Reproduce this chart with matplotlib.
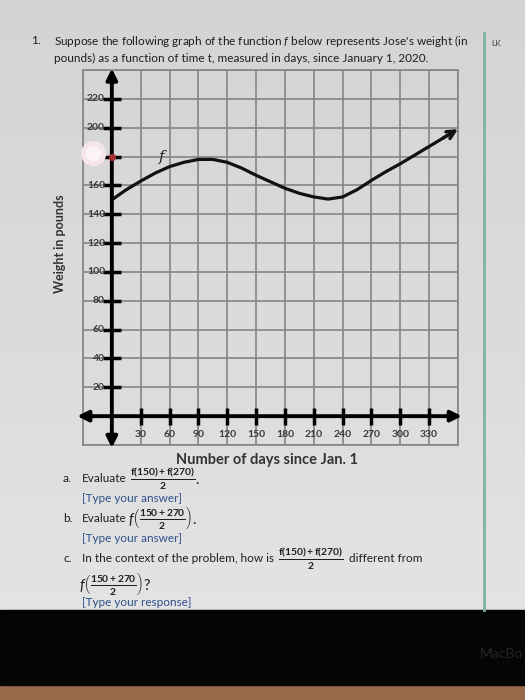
import numpy as np
import matplotlib
matplotlib.use("Agg")
import matplotlib.pyplot as plt
from matplotlib.patches import Rectangle

plt.rcParams['font.family'] = ['Lato', 'DejaVu Sans']
plt.rcParams['mathtext.fontset'] = 'custom'
plt.rcParams['mathtext.rm'] = 'Lato'
plt.rcParams['mathtext.it'] = 'Lato:italic'
plt.rcParams['mathtext.bf'] = 'Lato:bold'

# weight curve (days, pounds)
days = [0, 15, 30, 45, 60, 75, 90, 105, 120, 135, 150, 165, 180,
        195, 210, 225, 240, 255, 270, 285, 300, 315, 330, 345, 360]
weight = [150, 157, 163, 168.5, 173, 176, 178, 178, 176, 172, 167, 162.5, 158,
          154.5, 152, 150.5, 152, 157, 163.5, 169.5, 175, 181, 187, 193, 199]

x_ticks = [30, 60, 90, 120, 150, 180, 210, 240, 270, 300, 330]
y_ticks = [20, 40, 60, 80, 100, 120, 140, 160, 180, 200, 220]

W, H = 525, 700


def px(x, y):
    """pixel position -> figure fraction"""
    return x / W, 1 - y / H


fig = plt.figure(figsize=(W / 100, H / 100), dpi=100)

# photo-ish page background
bg = fig.add_axes([0, 0, 1, 1], zorder=-5)
grad = np.linspace(0, 1, 256).reshape(-1, 1)
bg.imshow(grad, aspect='auto', cmap=matplotlib.colors.LinearSegmentedColormap.from_list(
    'pg', ['#d4d4d4', '#dcdcdc', '#e6e6e6']), extent=[0, 1, 0, 1])
bg.set_axis_off()

# screen bottom
fig.patches.append(Rectangle((0, 0), 1, 15 / H, transform=fig.transFigure,
                             color='#9a6a4c', zorder=-4))
fig.patches.append(Rectangle((0, 15 / H), 1, 75 / H, transform=fig.transFigure,
                             color='#050505', zorder=-3))
fig.text(*px(480, 654), 'MacBo', color='#262626', fontsize=10, va='center')

# green margin line
fig.add_artist(plt.Line2D([484 / W, 484 / W], [1 - 33 / H, 1 - 610 / H],
                          transform=fig.transFigure, color='#7db3a2', lw=2))
fig.text(*px(491, 44), 'LK', fontsize=6, color='#444', va='center')

# question text
txt = '#1e1e1e'
fig.text(*px(31, 41), '1.', fontsize=8.5, color=txt, va='center')
fig.text(*px(54, 41), r"Suppose the following graph of the function $f$ below represents Jose's weight (in",
         fontsize=8.5, color=txt, va='center')
fig.text(*px(54, 58), 'pounds) as a function of time t, measured in days, since January 1, 2020.',
         fontsize=8.5, color=txt, va='center')

ax = fig.add_axes([83 / W, 1 - 445 / H, 375 / W, 375 / H])
ax.set_facecolor('none')
ax.set_xlim(-30, 360)
ax.set_ylim(-20, 240)
ax.set_xticks(np.arange(-30, 361, 30))
ax.set_yticks(np.arange(-20, 241, 20))
ax.grid(color='#858585', lw=1.2)
ax.tick_params(length=0, labelleft=False, labelbottom=False)
for s in ax.spines.values():
    s.set_color('#858585')
    s.set_linewidth(1.2)

# axes with arrows
ax.annotate('', xy=(0, 241), xytext=(0, -22), annotation_clip=False,
            arrowprops=dict(arrowstyle='<|-|>', lw=2.8, color='k',
                            mutation_scale=16, shrinkA=0, shrinkB=0))
ax.annotate('', xy=(364, 0), xytext=(-36, 0), annotation_clip=False,
            arrowprops=dict(arrowstyle='<|-|>', lw=2.8, color='k',
                            mutation_scale=16, shrinkA=0, shrinkB=0))

for y in y_ticks:
    ax.plot([-9, 9], [y, y], color='k', lw=2.5, solid_capstyle='butt')
    ax.text(-7, y, str(y), ha='right', va='center', fontsize=7.5,
            color='#3a3a3a', fontweight='bold')
for x in x_ticks:
    ax.plot([x, x], [-6, 6], color='k', lw=2.5, solid_capstyle='butt')
    ax.text(x, -12.5, str(x), ha='center', va='center', fontsize=7.5,
            color='#3a3a3a', fontweight='bold', clip_on=False)

# glare on the 180 label
ax.scatter([-19], [182], s=330, color='#f6e6ea', zorder=5, clip_on=False, edgecolors='none')
ax.scatter([-19], [182], s=120, color='#fbf3f5', zorder=6, clip_on=False, edgecolors='none')
ax.scatter([0], [180], s=18, color='#a03030', zorder=7)

# the function
ax.plot(days[:-1], weight[:-1], color='#111', lw=2.3, solid_capstyle='round')
ax.annotate('', xy=(days[-1], weight[-1]), xytext=(days[-2], weight[-2]),
            annotation_clip=False,
            arrowprops=dict(arrowstyle='->', lw=2.5, color='#111',
                            mutation_scale=14, shrinkA=0, shrinkB=0))
ax.text(52, 180, 'f', fontsize=11, fontstyle='italic', family='DejaVu Serif',
        color='#222', ha='center', va='center')

fig.text(*px(267, 460), 'Number of days since Jan. 1', fontsize=10.5,
         fontweight='bold', color='#333', ha='center', va='center')
fig.text(*px(60, 244), 'Weight in pounds', fontsize=9, fontweight='bold',
         color='#333', ha='center', va='center', rotation=90)

# sub-questions
blue = '#2f4f8c'
fs = 8.5
mfs = 10.5
frac_a = r'$\frac{\mathbf{f(150)+f(270)}}{\mathbf{2}}$'
f_mid = r'$f\left(\frac{\mathbf{150+270}}{\mathbf{2}}\right)$'

fig.text(*px(63, 478), 'a.', fontsize=fs, color=txt, va='center')
fig.text(*px(82, 478), 'Evaluate', fontsize=fs, color=txt, va='center')
fig.text(*px(130, 478), frac_a + '.', fontsize=mfs, color=txt, va='center')
fig.text(*px(82, 498), '[Type your answer]', fontsize=fs, color=blue, va='center')

fig.text(*px(63, 518), 'b.', fontsize=fs, color=txt, va='center')
fig.text(*px(82, 518), 'Evaluate', fontsize=fs, color=txt, va='center')
fig.text(*px(128, 518), f_mid + '.', fontsize=mfs, color=txt, va='center')
fig.text(*px(82, 538), '[Type your answer]', fontsize=fs, color=blue, va='center')

fig.text(*px(63, 558), 'c.', fontsize=fs, color=txt, va='center')
fig.text(*px(82, 558), 'In the context of the problem, how is', fontsize=fs, color=txt, va='center')
fig.text(*px(278, 558), frac_a, fontsize=mfs, color=txt, va='center')
fig.text(*px(349, 558), 'different from', fontsize=fs, color=txt, va='center')
fig.text(*px(79, 584), f_mid + '?', fontsize=mfs, color=txt, va='center')
fig.text(*px(82, 602), '[Type your response]', fontsize=fs, color=blue, va='center')

fig.savefig('out.png', dpi=100)
